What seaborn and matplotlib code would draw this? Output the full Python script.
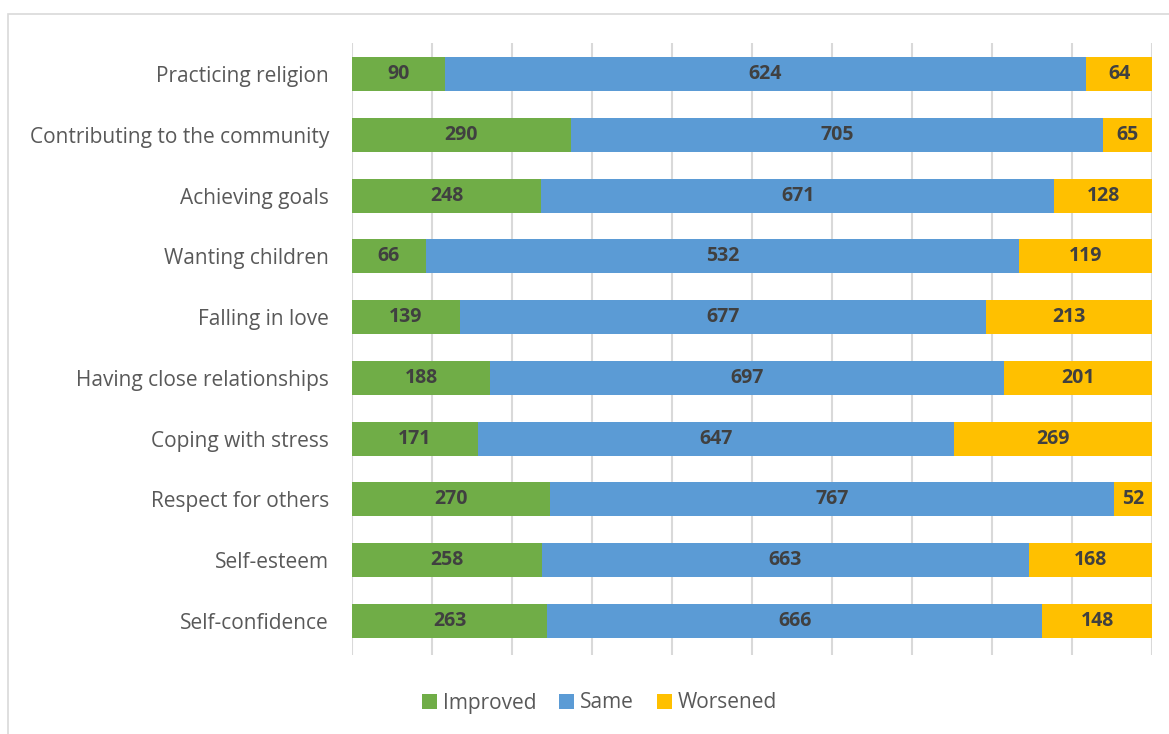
import matplotlib
matplotlib.use("Agg")
import matplotlib.pyplot as plt
import matplotlib.patches as mpatches
import seaborn as sns
import numpy as np
import pandas as pd

categories = ["Practicing religion", "Contributing to the community", "Achieving goals",
              "Wanting children", "Falling in love", "Having close relationships",
              "Coping with stress", "Respect for others", "Self-esteem", "Self-confidence"]
improved = [90, 290, 248, 66, 139, 188, 171, 270, 258, 263]
same = [624, 705, 671, 532, 677, 697, 647, 767, 663, 666]
worsened = [64, 65, 128, 119, 213, 201, 269, 52, 168, 148]
series_names = ["Improved", "Same", "Worsened"]
colors = ["#70AD47", "#5B9BD5", "#FFC000"]

sns.set_theme(style="white")
plt.rcParams['font.family'] = ['Open Sans', 'DejaVu Sans']

imp = np.array(improved, float)
sam = np.array(same, float)
wor = np.array(worsened, float)
tot = imp + sam + wor
p_imp = imp / tot * 100
p_sam = sam / tot * 100
p_wor = wor / tot * 100

df = pd.DataFrame({
    "cat": categories,
    "c1": p_imp,
    "c2": p_imp + p_sam,
    "c3": p_imp + p_sam + p_wor,
})

fig = plt.figure(figsize=(11.69, 7.34), dpi=100)
# outer frame
fig.patches.append(mpatches.Rectangle((8/1169, -0.1), 1.2, 1 - 14/734 + 0.1,
                                      transform=fig.transFigure, fill=False,
                                      edgecolor="#D9D9D9", linewidth=1.2, zorder=0))
ax = fig.add_axes([352/1169, 1 - 655/734, 800/1169, (655 - 43)/734])

for col, c in zip(["c3", "c2", "c1"], colors[::-1]):
    sns.barplot(data=df, x=col, y="cat", orient="h", color=c, width=0.56,
                saturation=1, edgecolor="none", linewidth=0, ax=ax, zorder=3)

ax.set_xlim(0, 100)
ax.set_xticks(np.arange(0, 101, 10))
ax.grid(axis="x", color="#D9D9D9", linewidth=1.5, zorder=0)
ax.set_axisbelow(True)
ax.tick_params(axis="x", length=0, labelbottom=False)
ax.tick_params(axis="y", length=0, pad=16.5, labelsize=15, labelcolor="#595959")
ax.set_xlabel("")
ax.set_ylabel("")
for s in ["top", "right", "bottom", "left"]:
    ax.spines[s].set_visible(False)
ax.set_ylim(9.56, -0.51)

for i in range(len(categories)):
    starts = [0, p_imp[i], p_imp[i] + p_sam[i]]
    widths = [p_imp[i], p_sam[i], p_wor[i]]
    vals = [improved[i], same[i], worsened[i]]
    for s, w, v in zip(starts, widths, vals):
        ax.text(s + w / 2, i, str(v), ha="center", va="center", fontsize=14,
                fontweight="bold", color="#404040", zorder=5)

handles = [mpatches.Patch(facecolor=c, edgecolor="none", label=n) for c, n in zip(colors, series_names)]
fig.legend(handles=handles, loc="center", bbox_to_anchor=(0.513, 1 - 703/734), ncol=3,
           frameon=False, fontsize=15, handlelength=0.7, handleheight=0.7,
           handletextpad=0.3, columnspacing=1.1, labelcolor="#595959")

fig.savefig("out.png", dpi=100)
